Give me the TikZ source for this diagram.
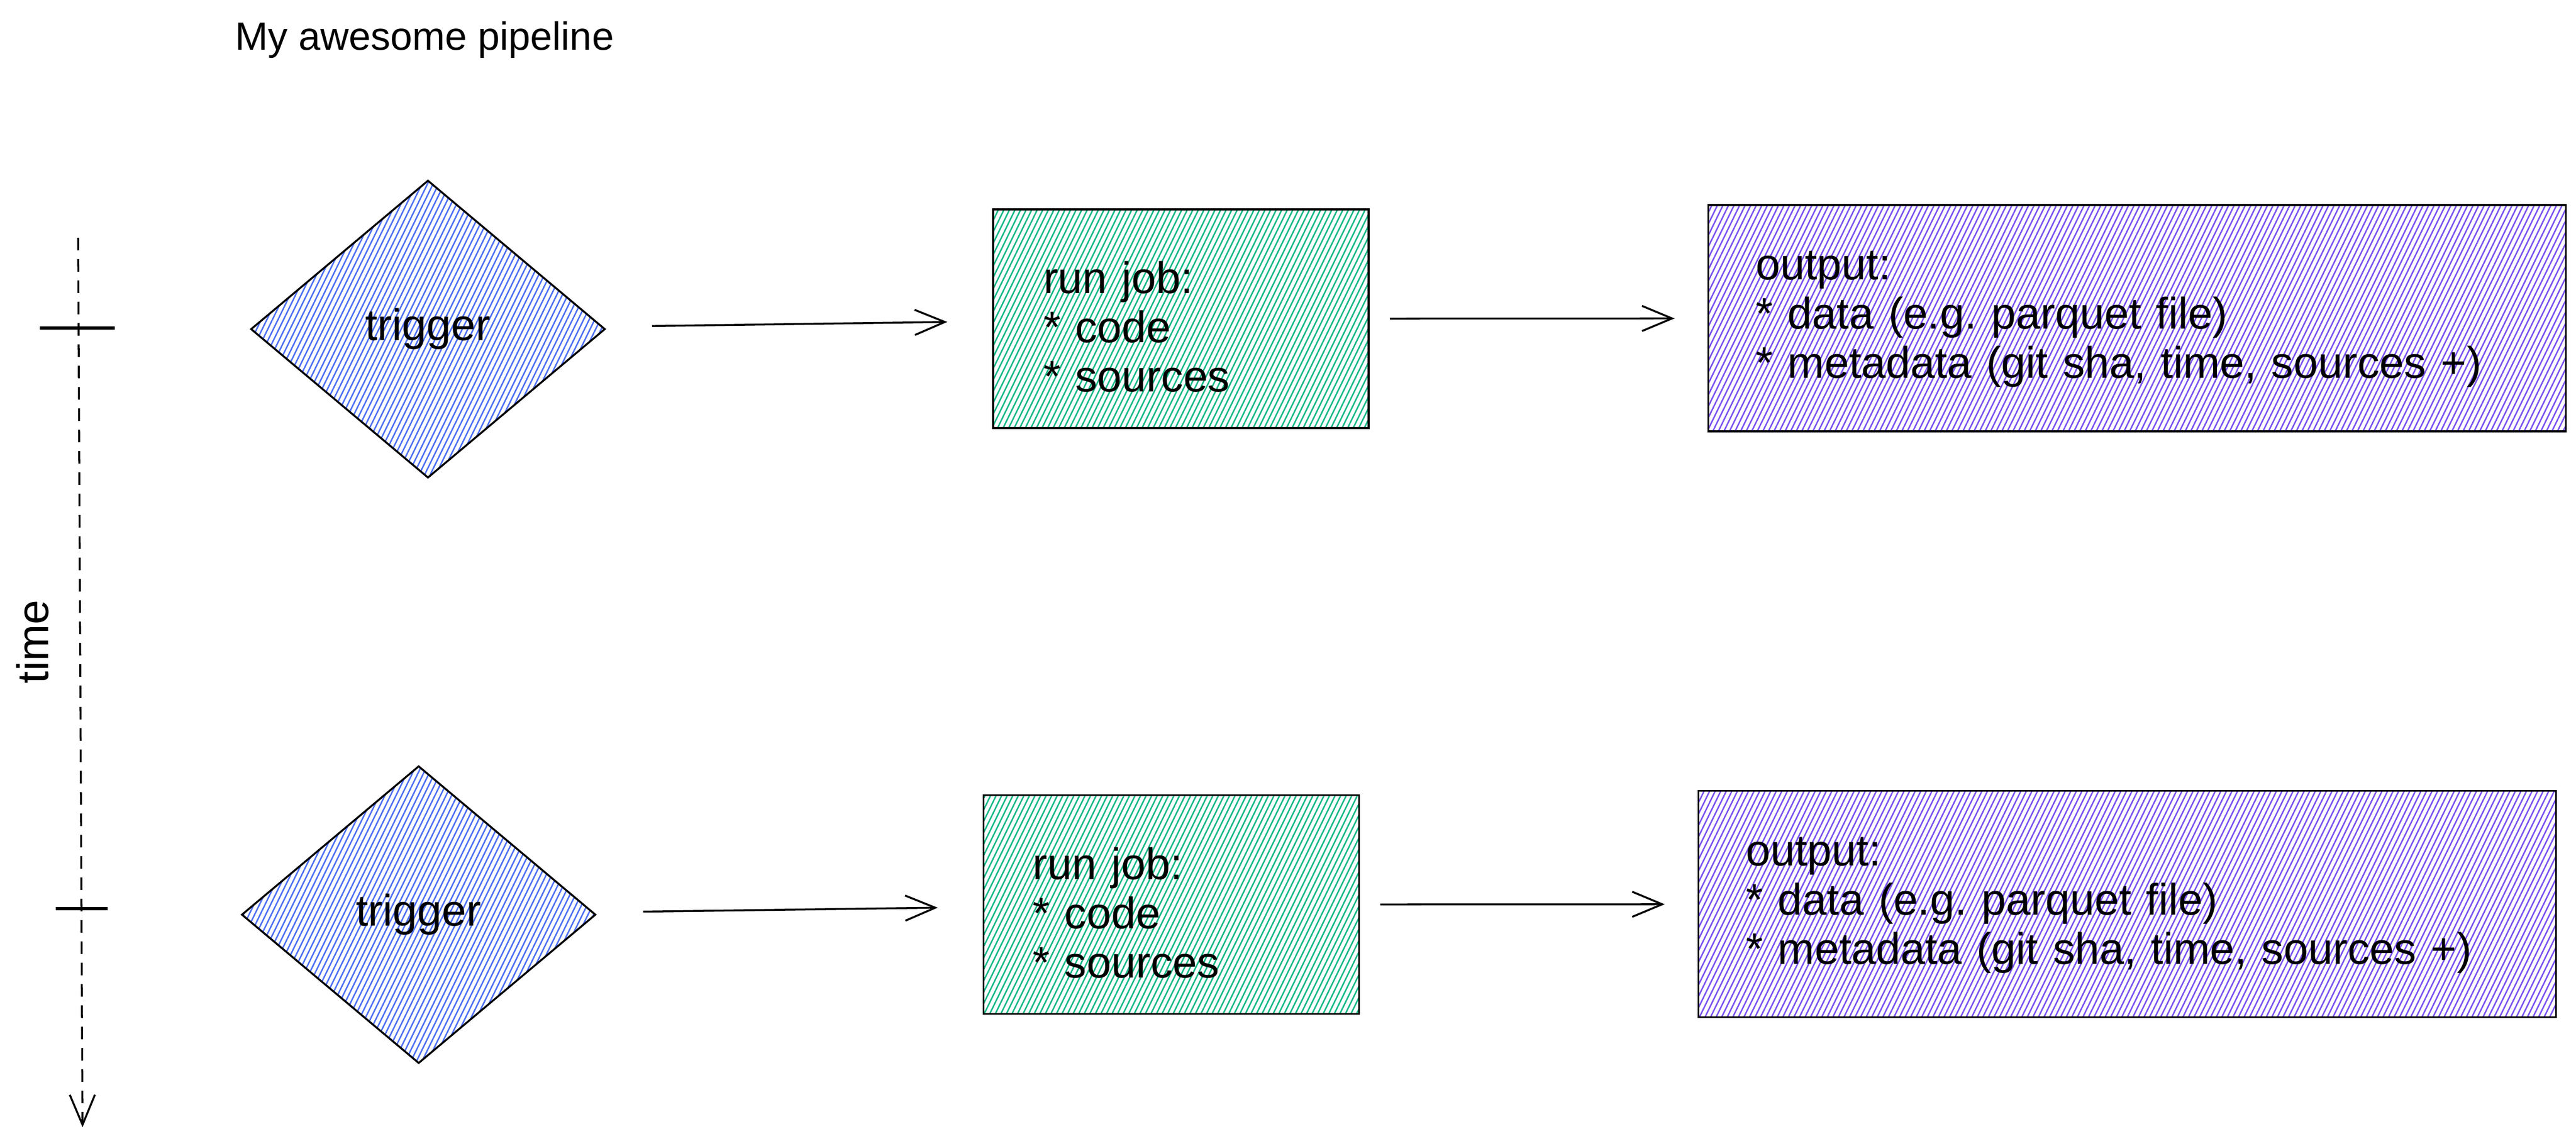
\documentclass[tikz,border=0pt]{standalone}
\usepackage{fontspec}
\setmainfont{Liberation Sans}
\usetikzlibrary{arrows.meta, positioning, shapes.geometric, patterns.meta}
\definecolor{hatchblue}{HTML}{4C6EF5}
\definecolor{hatchgreen}{HTML}{12B886}
\definecolor{hatchpurple}{HTML}{7950F2}

\begin{document}
\begin{tikzpicture}[>={Straight Barb[length=5.5mm, width=4.6mm]}, line width=1pt,
        hatch/.style={pattern={Lines[angle=64, distance=2.6pt, line width=0.75pt]}, pattern color=#1},
        trig/.style={draw, shape=diamond, hatch=hatchblue, inner sep=0pt, minimum width=6.48cm, minimum height=5.44cm, font=\fontsize{23}{27}\selectfont},
        jobbox/.style={draw, rectangle, hatch=hatchgreen, minimum width=6.87cm, minimum height=4cm},
        outbox/.style={draw, rectangle, hatch=hatchpurple, minimum width=15.69cm, minimum height=4.14cm},
        listtext/.style={inner sep=0pt, align=left, text width=#1, font=\fontsize{23}{25.6}\selectfont}]
            \fill[white] (0, 0) rectangle (47.13, 20.86);
            \useasboundingbox (0, 0) rectangle (47.13, 20.86);
            \node[anchor=base west, font=\fontsize{20.5}{24}\selectfont] (title) at (4.17, 19.94) {My awesome pipeline};
            % time axis
            \coordinate (tstart) at (1.43, 16.51);
            \coordinate (tend) at (1.51, 0.24);
            \draw[->, dash pattern=on 0.23cm off 0.16cm] (tstart) -- (tend);
            \draw[line width=1.6pt] (0.73, 14.86) -- (2.10, 14.86);
            \draw[line width=1.6pt] (1.02, 4.24) -- (1.97, 4.24);
            \node[rotate=90, anchor=base, font=\fontsize{23}{27}\selectfont] (timelabel) at (0.88, 9.12) {time};
            % first run
            \node[trig] (trigger1) at (7.83, 14.84) {trigger};
            \node[jobbox] (job1) at (21.605, 15.03) {};
            \node[outbox] (out1) at (39.10, 15.04) {};
            \node[listtext=5cm, below right=1.55cm and 0.92cm of job1.north west, anchor=base west] (job1text) {run job:\\{*} code\\{*} sources};
            \node[listtext=14cm, below right=1.38cm and 0.87cm of out1.north west, anchor=base west] (out1text) {output:\\{*} data (e.g.\ parquet file)\\{*} metadata (git sha, time, sources +)};
            \draw[->, shorten <=0.9cm, shorten >=0.82cm] (trigger1) -- (job1);
            \draw[->, shorten <=0.37cm, shorten >=0.6cm] (job1) -- (out1);
            % second run
            \node[trig] (trigger2) at (7.66, 4.13) {trigger};
            \node[jobbox] (job2) at (21.43, 4.315) {};
            \node[outbox] (out2) at (38.92, 4.325) {};
            \node[listtext=5cm, below right=1.56cm and 0.9cm of job2.north west, anchor=base west] (job2text) {run job:\\{*} code\\{*} sources};
            \node[listtext=14cm, below right=1.39cm and 0.87cm of out2.north west, anchor=base west] (out2text) {output:\\{*} data (e.g.\ parquet file)\\{*} metadata (git sha, time, sources +)};
            \draw[->, shorten <=0.9cm, shorten >=0.82cm] (trigger2) -- (job2);
            \draw[->, shorten <=0.37cm, shorten >=0.6cm] (job2) -- (out2);
        \end{tikzpicture}
\end{document}
